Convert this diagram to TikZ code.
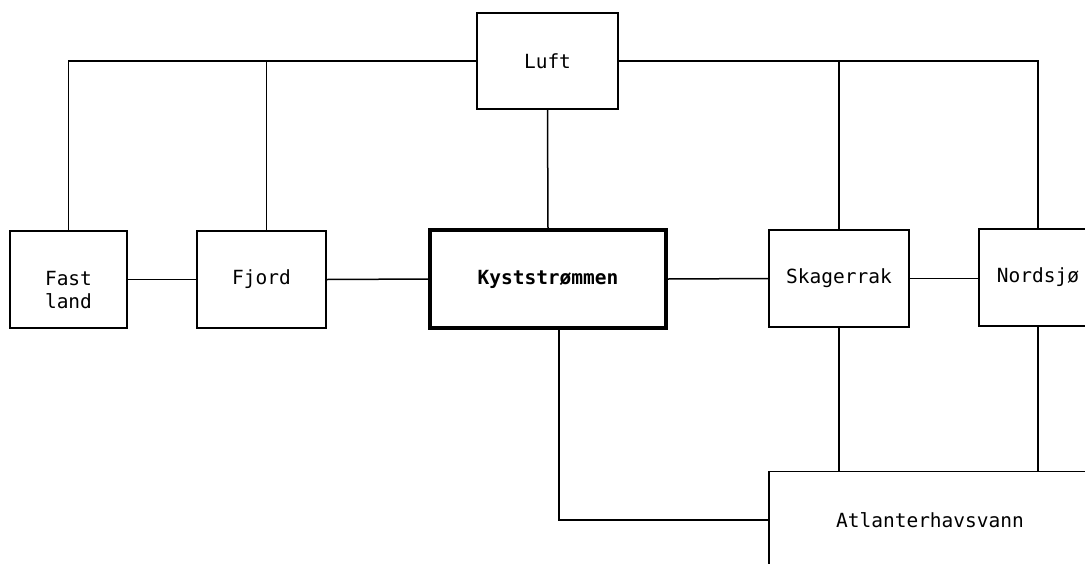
\documentclass[tikz,border=0pt]{standalone}
\usepackage{fontspec}
\setmonofont{DejaVu Sans Mono}
\newcommand{\boxfont}{\ttfamily\fontsize{19.5}{23}\selectfont}
\tikzset{
        box/.style={draw,line width=1.5pt,inner sep=0pt,font=\boxfont,align=center},
        mainbox/.style={box,line width=3.5pt,font=\boxfont\bfseries},
        link/.style={line width=1.5pt}
}
\begin{document}
    \begin{tikzpicture}[x=1pt,y=-1pt]
        \useasboundingbox (0,0) rectangle (1085,563);
        \clip (0,0) rectangle (1085,563);

        \node[box,minimum width=141pt,minimum height=96pt] (luft) at (547.5,61) {Luft};
        \node[box,minimum width=117pt,minimum height=97pt,
              label={[font=\boxfont,align=center,yshift=-11pt]center:Fast\\land}] (fast) at (68.5,279.5) {};
        \node[box,minimum width=129pt,minimum height=97pt] (fjord) at (261.5,279.5) {Fjord};
        \node[mainbox,minimum width=236pt,minimum height=98pt] (kyst) at (548,279) {Kyststrømmen};
        \node[box,minimum width=140pt,minimum height=97pt] (skag) at (839,278.5) {Skagerrak};
        \node[box,minimum width=118pt,minimum height=97pt] (nord) at (1038,277.5) {Nordsjø};
        \node[box,minimum width=322pt,minimum height=97pt] (atl) at (930,520) {Atlanterhavsvann};

        \draw[link] (luft.west) -| (fast.north);
        \draw[link] ([xshift=5pt]fjord.north) -- ([xshift=5pt]fjord.north |- luft.west);
        \draw[link] (luft.east) -| (nord.north);
        \draw[link] (skag.north) -- (skag.north |- luft.east);
        \draw[link] (luft.south) -- (kyst.north);

        \draw[link] (fast.east) -- (fjord.west);
        \draw[link] (fjord.east) -- (kyst.west);
        \draw[link] (kyst.east) -- (skag.west);
        \draw[link] (skag.east) -- (skag.east -| nord.west);

        \draw[link] ([xshift=11pt]kyst.south) |- (atl.west);
        \draw[link] (skag.south) -- (skag.south |- atl.north);
        \draw[link] (nord.south) -- (nord.south |- atl.north);
    \end{tikzpicture}
\end{document}
